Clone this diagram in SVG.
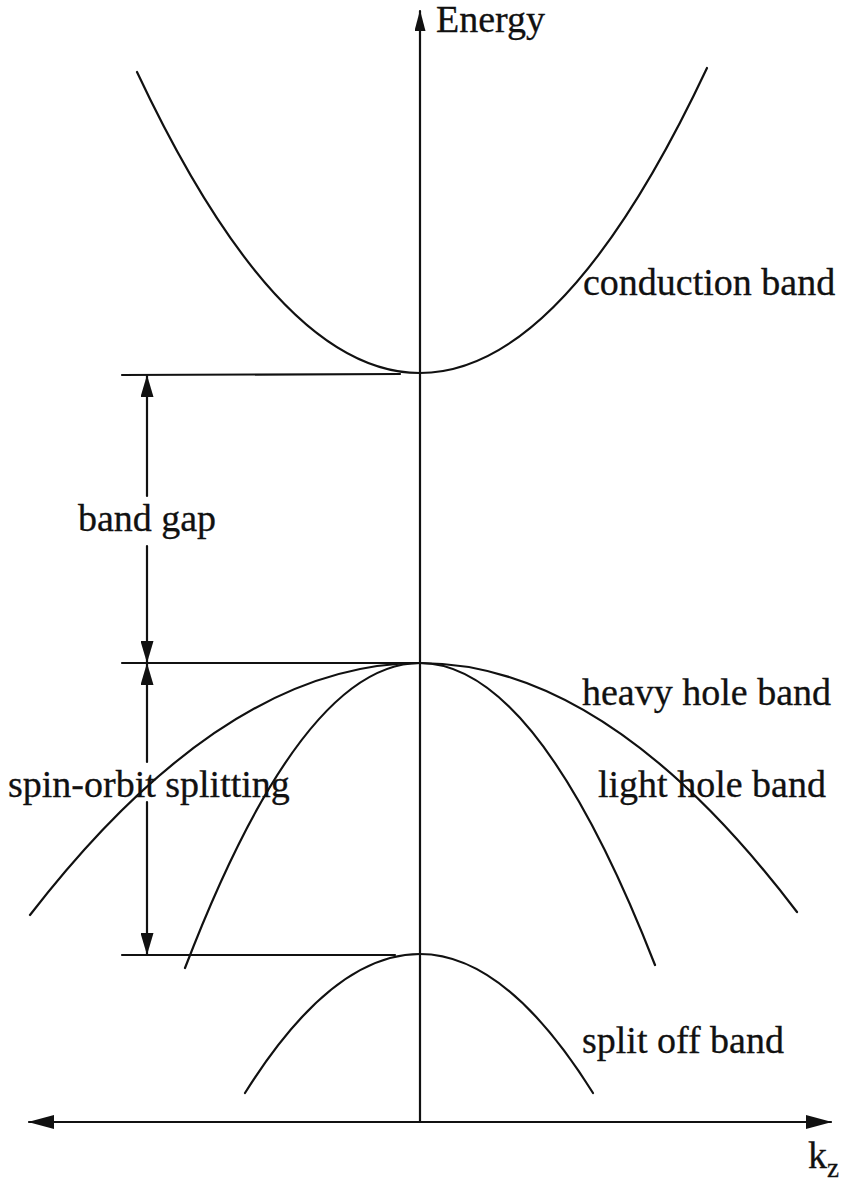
<svg xmlns="http://www.w3.org/2000/svg" width="859" height="1181" viewBox="0 0 859 1181">
<style>
.ln{fill:none;stroke:#111;stroke-width:2.2;stroke-linecap:round}
.lbl{font-family:"Liberation Serif","Times New Roman",serif;font-size:38px;fill:#111;stroke:#111;stroke-width:0.3}
</style>
<defs>
<marker id="ah" viewBox="0 0 22 13" refX="21" refY="6.5" markerWidth="22" markerHeight="13" markerUnits="userSpaceOnUse" orient="auto-start-reverse">
<path d="M0,0 L22,6.5 L0,13 Z" fill="#111"/>
</marker>
<marker id="ahL" viewBox="0 0 26 14" refX="25" refY="7" markerWidth="26" markerHeight="14" markerUnits="userSpaceOnUse" orient="auto-start-reverse">
<path d="M0,0 L26,7 L0,14 Z" fill="#111"/>
</marker>
<marker id="ahE" viewBox="0 0 21 11" refX="20" refY="5.5" markerWidth="21" markerHeight="11" markerUnits="userSpaceOnUse" orient="auto">
<path d="M0,0 L21,5.5 L0,11 Z" fill="#111"/>
</marker>
</defs>
<rect width="859" height="1181" fill="#fff"/>
<g id="connectors">
<line class="ln" x1="420" y1="1122" x2="420" y2="11" marker-end="url(#ahE)"/>
<line class="ln" x1="29" y1="1122" x2="831" y2="1122" marker-start="url(#ahL)" marker-end="url(#ahL)"/>
<line class="ln" x1="122" y1="375" x2="400" y2="374"/>
<line class="ln" x1="122" y1="663" x2="420" y2="663"/>
<line class="ln" x1="122" y1="955" x2="395" y2="955"/>
<line class="ln" x1="147" y1="496" x2="147" y2="376" marker-end="url(#ah)"/>
<line class="ln" x1="147" y1="546" x2="147" y2="662" marker-end="url(#ah)"/>
<line class="ln" x1="147" y1="762" x2="147" y2="664" marker-end="url(#ah)"/>
<line class="ln" x1="147" y1="802" x2="147" y2="954" marker-end="url(#ah)"/>
</g>
<g id="conduction-band">
<path class="ln" d="M137,72 Q278.5,373 420,373 Q563.5,373 707,68"/>
<text class="lbl" x="583" y="295">conduction band</text>
</g>
<g id="band-gap">
<text class="lbl" x="147" y="531" text-anchor="middle">band gap</text>
</g>
<g id="heavy-hole-band">
<path class="ln" d="M30,915 Q225,663 420,663 Q608,663 797,912"/>
<text class="lbl" x="582" y="705">heavy hole band</text>
</g>
<g id="light-hole-band">
<path class="ln" d="M185,968 Q302,663 420,663 Q537,663 655,965"/>
<text class="lbl" x="598" y="797">light hole band</text>
</g>
<g id="spin-orbit-splitting">
<text class="lbl" x="8" y="797">spin-orbit splitting</text>
</g>
<g id="split-off-band">
<path class="ln" d="M245,1093 Q332,954 420,954 Q506,954 593,1093"/>
<text class="lbl" x="582" y="1053">split off band</text>
</g>
<g id="energy-label">
<text class="lbl" x="436" y="32">Energy</text>
</g>
<g id="kz-label">
<text class="lbl" x="808" y="1168">k<tspan font-size="27" dy="9">z</tspan></text>
</g>
</svg>
